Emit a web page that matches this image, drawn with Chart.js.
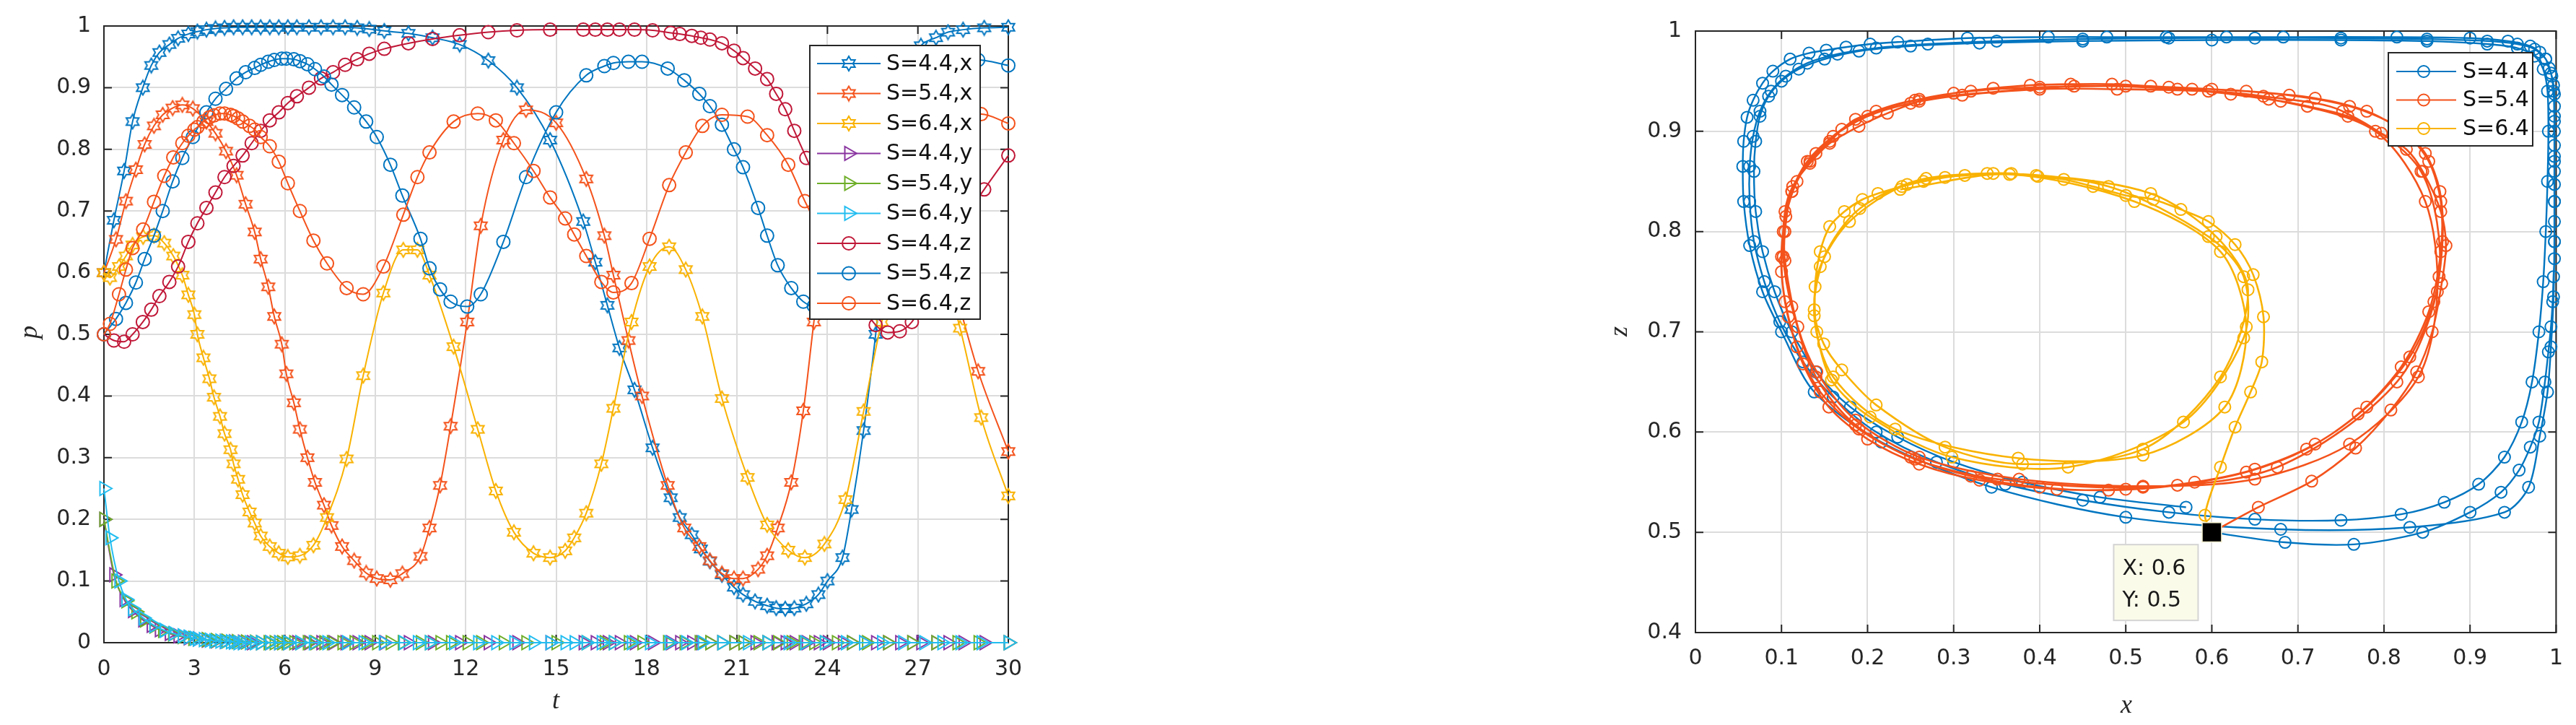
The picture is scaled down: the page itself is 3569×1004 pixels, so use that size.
<!DOCTYPE html>
<html>
<head>
<meta charset="utf-8">
<script src="https://cdn.jsdelivr.net/npm/chart.js@4.4.0/dist/chart.umd.min.js"></script>
<style>
html, body { margin: 0; padding: 0; background: #fff; }
body { width: 3569px; height: 1004px; position: relative; overflow: hidden; }
#left { position: absolute; left: 0; top: 0; width: 1480px; height: 1004px; }
#right { position: absolute; left: 2200px; top: 0; width: 1369px; height: 1004px; }
</style>
</head>
<body>
<canvas id="left" width="1480" height="1004"></canvas>
<canvas id="right" width="1369" height="1004"></canvas>
<script>
// tick labels
const tTicks = [0, 3, 6, 9, 12, 15, 18, 21, 24, 27, 30];
const pTicks = [0, 0.1, 0.2, 0.3, 0.4, 0.5, 0.6, 0.7, 0.8, 0.9, 1];
const xTicks = [0, 0.1, 0.2, 0.3, 0.4, 0.5, 0.6, 0.7, 0.8, 0.9, 1];
const zTicks = [0.4, 0.5, 0.6, 0.7, 0.8, 0.9, 1];

// S = 4.4 (time steps and x, y, z)
const t44 = [0, 0.33, 0.67, 0.95, 1.29, 1.57, 1.84, 2.17, 2.46, 2.8, 3.1, 3.4, 3.7, 4.0, 4.3, 4.6, 4.9, 5.2, 5.5, 5.8,
  6.1, 6.4, 6.8, 7.2, 7.6, 8.0, 8.4, 8.8, 9.3, 10.1, 10.9, 11.8, 12.75, 13.7, 14.8, 15.9, 16.3, 16.7, 17.1, 17.6,
  18.2, 18.8, 19.1, 19.5, 19.8, 20.1, 20.5, 20.9, 21.2, 21.6, 22.0, 22.3, 22.6, 22.9, 23.3, 23.7, 24.0, 24.5, 24.8, 25.2,
  25.6, 26.0, 26.4, 26.8, 27.1, 27.6, 28.0, 28.5, 29.2, 30];
const x44 = [0.60, 0.685, 0.765, 0.845, 0.90, 0.936, 0.957, 0.970, 0.980, 0.987, 0.991, 0.994, 0.996, 0.997, 0.998, 0.998, 0.998, 0.998, 0.998, 0.998,
  0.998, 0.998, 0.998, 0.998, 0.998, 0.998, 0.997, 0.995, 0.992, 0.988, 0.981, 0.970, 0.944, 0.900, 0.815, 0.683, 0.617, 0.547, 0.478, 0.410,
  0.316, 0.235, 0.203, 0.175, 0.152, 0.132, 0.110, 0.090, 0.078, 0.067, 0.060, 0.056, 0.055, 0.056, 0.063, 0.078, 0.100, 0.138, 0.216, 0.344,
  0.500, 0.680, 0.830, 0.940, 0.968, 0.981, 0.990, 0.994, 0.997, 0.998];
const y44 = [0.20, 0.11, 0.07, 0.052, 0.037, 0.028, 0.021, 0.015, 0.011, 0.008, 0.006, 0.004, 0.003, 0.002, 0.0015, 0.001, 0, 0, 0, 0,
  0, 0, 0, 0, 0, 0, 0, 0, 0, 0, 0, 0, 0, 0, 0, 0, 0, 0, 0, 0,
  0, 0, 0, 0, 0, 0, 0, 0, 0, 0, 0, 0, 0, 0, 0, 0, 0, 0, 0, 0,
  0, 0, 0, 0, 0, 0, 0, 0, 0, 0];
const z44 = [0.50, 0.49, 0.488, 0.50, 0.52, 0.54, 0.562, 0.585, 0.61, 0.65, 0.68, 0.705, 0.73, 0.755, 0.773, 0.79, 0.81, 0.83, 0.847, 0.86,
  0.875, 0.886, 0.90, 0.915, 0.925, 0.937, 0.946, 0.955, 0.963, 0.972, 0.979, 0.985, 0.99, 0.993, 0.994, 0.994, 0.994, 0.994, 0.994, 0.994,
  0.993, 0.989, 0.987, 0.984, 0.981, 0.978, 0.972, 0.96, 0.948, 0.931, 0.914, 0.89, 0.865, 0.83, 0.786, 0.74, 0.70, 0.64, 0.59, 0.545,
  0.515, 0.503, 0.505, 0.52, 0.545, 0.596, 0.64, 0.685, 0.735, 0.79];

// S = 5.4
const t54 = [0, 0.4, 0.73, 1.06, 1.35, 1.66, 1.95, 2.28, 2.6, 2.95, 3.4, 3.7, 4.05, 4.4, 4.7, 5.0, 5.2, 5.45, 5.65, 5.9,
  6.05, 6.3, 6.5, 6.75, 7.0, 7.3, 7.55, 7.9, 8.3, 8.7, 9.05, 9.5, 9.9, 10.5, 10.8, 11.15, 11.5, 12.05, 12.5, 13.25,
  14.0, 15.0, 16.0, 16.6, 16.9, 17.4, 17.85, 18.7, 19.25, 19.75, 20.1, 20.5, 20.9, 21.2, 21.7, 22.0, 22.35, 22.8, 23.2, 23.55,
  23.9, 24.3, 24.8, 25.3, 26.0, 26.8, 27.6, 28.3, 29.0, 30];
const x54 = [0.60, 0.654, 0.716, 0.767, 0.808, 0.838, 0.856, 0.867, 0.872, 0.866, 0.845, 0.826, 0.797, 0.758, 0.711, 0.666, 0.622, 0.577, 0.529, 0.484,
  0.436, 0.389, 0.346, 0.300, 0.260, 0.223, 0.190, 0.156, 0.133, 0.113, 0.104, 0.102, 0.112, 0.140, 0.186, 0.255, 0.351, 0.520, 0.676, 0.815,
  0.864, 0.843, 0.752, 0.660, 0.596, 0.490, 0.400, 0.255, 0.186, 0.156, 0.133, 0.112, 0.104, 0.104, 0.119, 0.141, 0.186, 0.260, 0.376, 0.520,
  0.650, 0.760, 0.840, 0.862, 0.848, 0.790, 0.680, 0.560, 0.440, 0.310];
const y54 = [0.20, 0.10, 0.068, 0.05, 0.037, 0.027, 0.02, 0.014, 0.01, 0.007, 0.005, 0.0035, 0.0025, 0.0018, 0.0012, 0.0008, 0, 0, 0, 0,
  0, 0, 0, 0, 0, 0, 0, 0, 0, 0, 0, 0, 0, 0, 0, 0, 0, 0, 0, 0,
  0, 0, 0, 0, 0, 0, 0, 0, 0, 0, 0, 0, 0, 0, 0, 0, 0, 0, 0, 0,
  0, 0, 0, 0, 0, 0, 0, 0, 0, 0];
const z54 = [0.500, 0.525, 0.551, 0.584, 0.622, 0.660, 0.700, 0.748, 0.786, 0.820, 0.860, 0.882, 0.898, 0.915, 0.925, 0.932, 0.937, 0.942, 0.945, 0.947,
  0.947, 0.946, 0.943, 0.938, 0.930, 0.918, 0.905, 0.888, 0.868, 0.845, 0.820, 0.775, 0.725, 0.655, 0.607, 0.573, 0.553, 0.545, 0.565, 0.650,
  0.755, 0.860, 0.920, 0.935, 0.940, 0.942, 0.942, 0.931, 0.912, 0.890, 0.870, 0.840, 0.800, 0.771, 0.705, 0.660, 0.612, 0.575, 0.553, 0.546,
  0.553, 0.588, 0.655, 0.740, 0.830, 0.900, 0.930, 0.942, 0.945, 0.936];

// S = 6.4
const t64 = [0, 0.2, 0.5, 0.73, 0.95, 1.3, 1.66, 2.0, 2.3, 2.6, 2.8, 3.0, 3.1, 3.3, 3.5, 3.65, 3.85, 4.0, 4.2, 4.3,
  4.45, 4.6, 4.83, 5.0, 5.2, 5.5, 5.8, 6.1, 6.5, 6.95, 7.4, 8.05, 8.6, 9.27, 9.93, 10.4, 10.8, 11.6, 12.4, 13.0,
  13.6, 14.25, 14.8, 15.3, 15.6, 16.0, 16.5, 16.9, 17.5, 18.1, 18.75, 19.3, 19.85, 20.5, 21.35, 22.0, 22.7, 23.25, 23.9, 24.6,
  25.2, 25.8, 26.5, 27.2, 27.8, 28.4, 29.1, 30];
const x64 = [0.600, 0.592, 0.610, 0.627, 0.645, 0.658, 0.660, 0.648, 0.627, 0.596, 0.564, 0.532, 0.500, 0.462, 0.428, 0.398, 0.367, 0.339, 0.313, 0.290,
  0.265, 0.240, 0.212, 0.194, 0.173, 0.156, 0.145, 0.139, 0.141, 0.158, 0.203, 0.298, 0.433, 0.567, 0.637, 0.637, 0.596, 0.480, 0.346, 0.246,
  0.179, 0.145, 0.138, 0.149, 0.170, 0.210, 0.290, 0.380, 0.520, 0.610, 0.642, 0.605, 0.529, 0.396, 0.268, 0.191, 0.150, 0.138, 0.160, 0.232,
  0.375, 0.520, 0.615, 0.640, 0.610, 0.510, 0.365, 0.238];
const y64 = [0.25, 0.17, 0.10, 0.07, 0.055, 0.04, 0.028, 0.02, 0.015, 0.011, 0.009, 0.007, 0.006, 0.005, 0.004, 0.003, 0.0025, 0.002, 0.0015, 0.001,
  0, 0, 0, 0, 0, 0, 0, 0, 0, 0, 0, 0, 0, 0, 0, 0, 0, 0, 0, 0,
  0, 0, 0, 0, 0, 0, 0, 0, 0, 0, 0, 0, 0, 0, 0, 0, 0, 0, 0, 0,
  0, 0, 0, 0, 0, 0, 0, 0];
const z64 = [0.500, 0.517, 0.565, 0.605, 0.640, 0.670, 0.715, 0.757, 0.787, 0.810, 0.822, 0.832, 0.836, 0.845, 0.852, 0.855, 0.858, 0.858, 0.856, 0.854,
  0.850, 0.845, 0.838, 0.832, 0.820, 0.805, 0.780, 0.745, 0.700, 0.652, 0.615, 0.575, 0.565, 0.610, 0.694, 0.755, 0.795, 0.845, 0.858, 0.847,
  0.810, 0.765, 0.722, 0.688, 0.662, 0.627, 0.585, 0.568, 0.583, 0.655, 0.742, 0.795, 0.838, 0.856, 0.853, 0.823, 0.775, 0.716, 0.655, 0.603,
  0.574, 0.577, 0.625, 0.705, 0.780, 0.830, 0.857, 0.842];

// later loops of the x-z trajectory (phase plot only)
const x44later = [0.998, 0.998, 0.998, 0.997, 0.994, 0.988, 0.975, 0.955, 0.92, 0.85, 0.75, 0.65, 0.55, 0.45, 0.35, 0.27, 0.21, 0.165, 0.13, 0.105,
  0.088, 0.075, 0.067, 0.063, 0.063, 0.068, 0.08, 0.098, 0.125, 0.16, 0.21, 0.28, 0.36, 0.45, 0.55, 0.65, 0.75, 0.82, 0.87, 0.91,
  0.94, 0.96, 0.972, 0.98, 0.985, 0.988, 0.99, 0.991, 0.99, 0.985, 0.975, 0.955, 0.92, 0.85, 0.75, 0.6, 0.45, 0.33, 0.25, 0.19,
  0.15, 0.12, 0.1, 0.085, 0.075, 0.07, 0.068, 0.07, 0.078, 0.092, 0.112, 0.14, 0.18, 0.235, 0.3, 0.38, 0.47, 0.57];
const z44later = [0.83, 0.87, 0.91, 0.94, 0.958, 0.972, 0.982, 0.987, 0.99, 0.992, 0.993, 0.993, 0.993, 0.992, 0.99, 0.987, 0.983, 0.977, 0.968, 0.955,
  0.94, 0.92, 0.895, 0.865, 0.83, 0.79, 0.75, 0.71, 0.67, 0.635, 0.6, 0.57, 0.548, 0.532, 0.52, 0.513, 0.512, 0.518, 0.53, 0.548,
  0.575, 0.61, 0.65, 0.7, 0.75, 0.8, 0.85, 0.9, 0.94, 0.962, 0.975, 0.983, 0.987, 0.99, 0.991, 0.991, 0.99, 0.988, 0.985, 0.98,
  0.972, 0.962, 0.95, 0.935, 0.915, 0.89, 0.86, 0.82, 0.78, 0.74, 0.7, 0.66, 0.625, 0.595, 0.57, 0.55, 0.535, 0.525];
const x54later = [0.25, 0.2, 0.16, 0.13, 0.112, 0.102, 0.1, 0.108, 0.125, 0.155, 0.2, 0.26, 0.33, 0.42, 0.5, 0.58, 0.65, 0.72, 0.78, 0.83,
  0.858, 0.868, 0.865, 0.848, 0.815, 0.76, 0.69, 0.6, 0.5, 0.4, 0.32, 0.26, 0.21, 0.17, 0.14, 0.118, 0.105, 0.1, 0.104, 0.118,
  0.145, 0.19, 0.25, 0.32, 0.4, 0.48, 0.56, 0.64, 0.71, 0.77, 0.82, 0.852, 0.866, 0.866, 0.852, 0.825, 0.78, 0.72, 0.64, 0.55];
const z54later = [0.928, 0.915, 0.895, 0.87, 0.84, 0.8, 0.76, 0.715, 0.668, 0.625, 0.593, 0.568, 0.552, 0.543, 0.543, 0.55, 0.563, 0.588, 0.625, 0.675,
  0.73, 0.79, 0.84, 0.878, 0.905, 0.925, 0.936, 0.942, 0.945, 0.944, 0.94, 0.932, 0.92, 0.902, 0.878, 0.85, 0.815, 0.775, 0.73, 0.685,
  0.64, 0.603, 0.575, 0.556, 0.545, 0.542, 0.547, 0.56, 0.583, 0.618, 0.665, 0.72, 0.78, 0.83, 0.87, 0.898, 0.92, 0.933, 0.94, 0.944];

// data tip
const tipX = 0.6;
const tipY = 0.5;

const BLUE = '#0075c0', ORANGE = '#f4521b', YELLOW = '#f9b200', PURPLE = '#8a35a0',
      GREEN = '#6eae28', CYAN = '#22bdf0', CRIMSON = '#c01838';
const INK = '#262626';
const FONT = '"DejaVu Sans", sans-serif';

function pts(xs, ys) { return xs.map((v, i) => ({ x: v, y: ys[i] })); }

// MATLAB style hexagram marker
function hexagram(color, R) {
  const c = document.createElement('canvas');
  const s = Math.ceil(2 * R + 4);
  c.width = c.height = s;
  const g = c.getContext('2d');
  g.strokeStyle = color;
  g.lineWidth = 2;
  g.beginPath();
  for (let k = 0; k < 12; k++) {
    const a = -Math.PI / 2 + k * Math.PI / 6;
    const r = k % 2 === 0 ? R : R / Math.sqrt(3);
    const px = s / 2 + r * Math.cos(a), py = s / 2 + r * Math.sin(a);
    if (k === 0) g.moveTo(px, py); else g.lineTo(px, py);
  }
  g.closePath();
  g.stroke();
  return c;
}

function series(label, data, color, style, r, rot, extra) {
  return Object.assign({
    label: label, data: data, showLine: true,
    borderColor: color, backgroundColor: color, borderWidth: 2,
    pointStyle: style, pointRadius: r, pointRotation: rot || 0,
    pointBorderColor: color, pointBackgroundColor: 'rgba(0,0,0,0)', pointBorderWidth: 2,
    clip: false
  }, extra || {});
}

function drawMark(ctx, ds, x, y) {
  const st = ds.pointStyle, r = ds.pointRadius;
  ctx.save();
  ctx.strokeStyle = ds.pointBorderColor;
  ctx.lineWidth = ds.pointBorderWidth;
  if (st instanceof HTMLCanvasElement) {
    ctx.drawImage(st, x - st.width / 2, y - st.height / 2);
  } else if (st === 'circle') {
    ctx.beginPath(); ctx.arc(x, y, r, 0, Math.PI * 2); ctx.stroke();
  } else if (st === 'triangle') {
    let a = (ds.pointRotation || 0) * Math.PI / 180;
    ctx.beginPath();
    for (let k = 0; k < 3; k++) {
      const px = x + Math.sin(a) * r, py = y - Math.cos(a) * r;
      if (k === 0) ctx.moveTo(px, py); else ctx.lineTo(px, py);
      a += Math.PI * 2 / 3;
    }
    ctx.closePath(); ctx.stroke();
  }
  ctx.restore();
}

function axis(min, max, ticks, fit, pad, isX) {
  return {
    type: 'linear', min: min, max: max,
    afterBuildTicks: s => { s.ticks = ticks.map(v => ({ value: v })); },
    afterFit: s => { if (isX) s.height = fit; else s.width = fit; },
    grid: { color: '#dcdcdc', lineWidth: 2, drawTicks: false },
    border: { display: false },
    ticks: { font: { family: FONT, size: 30 }, color: INK, padding: pad, maxRotation: 0, autoSkip: false,
             callback: v => String(v) }
  };
}

// box and inward ticks, drawn under the data
const frame = {
  id: 'frame',
  beforeDatasetsDraw(chart) {
    const { ctx, chartArea: a, scales } = chart;
    ctx.save();
    ctx.strokeStyle = INK;
    ctx.lineWidth = 2;
    ctx.beginPath();
    scales.x.ticks.forEach(t => {
      const px = scales.x.getPixelForValue(t.value);
      ctx.moveTo(px, a.bottom); ctx.lineTo(px, a.bottom - 11);
      ctx.moveTo(px, a.top); ctx.lineTo(px, a.top + 11);
    });
    scales.y.ticks.forEach(t => {
      const py = scales.y.getPixelForValue(t.value);
      ctx.moveTo(a.left, py); ctx.lineTo(a.left + 11, py);
      ctx.moveTo(a.right, py); ctx.lineTo(a.right - 11, py);
    });
    ctx.stroke();
    ctx.strokeRect(a.left, a.top, a.right - a.left, a.bottom - a.top);
    ctx.restore();
  }
};

function decor(cfg) {
  return {
    id: 'decor',
    afterDraw(chart) {
      const ctx = chart.ctx;
      ctx.save();
      // axis titles
      ctx.fillStyle = INK;
      ctx.font = 'italic 36px "Liberation Serif", serif';
      ctx.textAlign = 'center';
      ctx.textBaseline = 'middle';
      ctx.fillText(cfg.xTitle, cfg.xTitlePos[0], cfg.xTitlePos[1]);
      ctx.translate(cfg.yTitlePos[0], cfg.yTitlePos[1]);
      ctx.rotate(-Math.PI / 2);
      ctx.fillText(cfg.yTitle, 0, 0);
      ctx.restore();

      // legend box
      const L = cfg.legend;
      ctx.save();
      ctx.fillStyle = '#fff';
      ctx.fillRect(L.x, L.y, L.w, L.h);
      ctx.strokeStyle = INK;
      ctx.lineWidth = 2;
      ctx.strokeRect(L.x, L.y, L.w, L.h);
      ctx.font = '30px ' + FONT;
      ctx.textAlign = 'left';
      ctx.textBaseline = 'middle';
      chart.data.datasets.forEach((ds, i) => {
        if (!ds.label) return;
        const ry = L.row0 + i * L.step;
        ctx.strokeStyle = ds.borderColor;
        ctx.lineWidth = 2;
        ctx.beginPath(); ctx.moveTo(L.line0, ry); ctx.lineTo(L.line1, ry); ctx.stroke();
        drawMark(ctx, ds, L.mark, ry);
        ctx.fillStyle = '#111';
        ctx.fillText(ds.label, L.text, ry + 1);
      });
      ctx.restore();

      // data tip
      if (cfg.tip) {
        const px = chart.scales.x.getPixelForValue(tipX);
        const py = chart.scales.y.getPixelForValue(tipY);
        ctx.save();
        ctx.fillStyle = '#fbfbea';
        ctx.strokeStyle = '#d4d4d4';
        ctx.lineWidth = 2;
        ctx.fillRect(px - 136, py + 17, 117, 105);
        ctx.strokeRect(px - 136, py + 17, 117, 105);
        ctx.fillStyle = '#1a1a1a';
        ctx.font = '30px ' + FONT;
        ctx.textAlign = 'left';
        ctx.textBaseline = 'middle';
        ctx.fillText('X: ' + tipX, px - 124, py + 51);
        ctx.fillText('Y: ' + tipY, px - 124, py + 95);
        ctx.restore();
      }
    }
  };
}

const common = {
  animation: false, responsive: false, events: [],
  plugins: { legend: { display: false }, tooltip: { enabled: false } }
};

// ---- left: time series
const leftSets = [
  series('S=4.4,x', pts(t44, x44), BLUE, hexagram(BLUE, 10), 10),
  series('S=5.4,x', pts(t54, x54), ORANGE, hexagram(ORANGE, 10), 10),
  series('S=6.4,x', pts(t64, x64), YELLOW, hexagram(YELLOW, 10), 10),
  series('S=4.4,y', pts(t44, y44), PURPLE, 'triangle', 11, 90),
  series('S=5.4,y', pts(t54, y54), GREEN, 'triangle', 11, 90),
  series('S=6.4,y', pts(t64, y64), CYAN, 'triangle', 11, 90),
  series('S=4.4,z', pts(t44, z44), CRIMSON, 'circle', 9),
  series('S=5.4,z', pts(t54, z54), BLUE, 'circle', 9),
  series('S=6.4,z', pts(t64, z64), ORANGE, 'circle', 9)
];
leftSets.forEach((d, i) => { d.order = -i; d.cubicInterpolationMode = 'monotone'; });

new Chart(document.getElementById('left'), {
  type: 'scatter',
  data: { datasets: leftSets },
  options: Object.assign({}, common, {
    layout: { padding: { left: 0, top: 30, right: 83, bottom: 0 } },
    scales: {
      x: axis(0, 30, tTicks, 114, 19, true),
      y: axis(0, 1, pTicks, 144, 18, false)
    }
  }),
  plugins: [frame, decor({
    xTitle: 't', xTitlePos: [770, 972], yTitle: 'p', yTitlePos: [42, 460],
    legend: { x: 1122, y: 63, w: 236, h: 379, row0: 88, step: 41.5, line0: 1132, line1: 1220, mark: 1176, text: 1228 }
  })]
});

// ---- right: x-z phase plot
const rightSets = [
  series('S=4.4', pts(x44, z44).concat(pts(x44later, z44later)), BLUE, 'circle', 8, 0, { tension: 0.3, borderWidth: 2.4 }),
  series('S=5.4', pts(x54, z54).concat(pts(x54later, z54later)), ORANGE, 'circle', 8, 0, { tension: 0.3, borderWidth: 2.6 }),
  series('S=6.4', pts(x64, z64), YELLOW, 'circle', 8, 0, { tension: 0.3, borderWidth: 2.6 }),
  {
    data: [{ x: tipX, y: tipY }], showLine: false, pointStyle: 'rect', pointRadius: 19,
    pointBackgroundColor: '#000', pointBorderColor: '#f3efcf', pointBorderWidth: 1.5, clip: false
  }
];
rightSets.forEach((d, i) => { d.order = -i; });

new Chart(document.getElementById('right'), {
  type: 'scatter',
  data: { datasets: rightSets },
  options: Object.assign({}, common, {
    layout: { padding: { left: 0, top: 43, right: 25, bottom: 0 } },
    scales: {
      x: axis(0, 1, xTicks, 128, 18, true),
      y: axis(0.4, 1, zTicks, 149, 19, false)
    }
  }),
  plugins: [frame, decor({
    xTitle: 'x', xTitlePos: [746, 978], yTitle: 'z', yTitlePos: [45, 459], tip: true,
    legend: { x: 1109, y: 73, w: 200, h: 129, row0: 99, step: 39.5, line0: 1120, line1: 1203, mark: 1158, text: 1212 }
  })]
});
</script>
</body>
</html>
